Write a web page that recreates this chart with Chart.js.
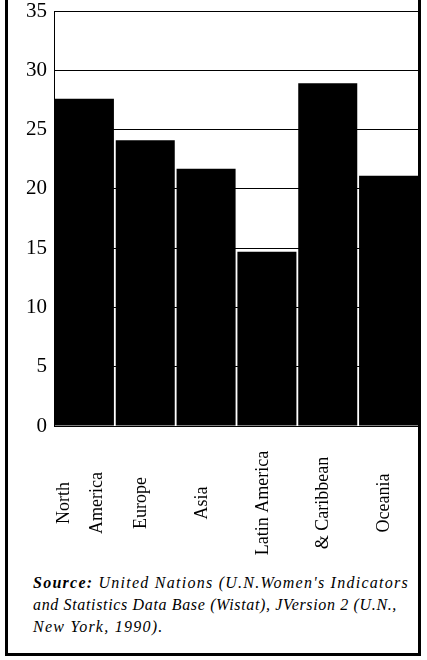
<!DOCTYPE html>
<html>
<head>
<meta charset="utf-8">
<script src="https://cdn.jsdelivr.net/npm/chart.js@4/dist/chart.umd.min.js"></script>
<style>
  body { margin: 0; background: #fff; }
  #frame {
    position: absolute; left: 5px; top: -3px; width: 416px; height: 659px;
    border: 3px solid #000; box-sizing: border-box;
  }
  #chartBox { position: absolute; left: 8px; top: 0; width: 411px; height: 570px; }
  #source {
    position: absolute; left: 33px; top: 572px; width: 385px;
    font: italic 16px "Liberation Serif", serif; line-height: 22px;
    letter-spacing: 1.25px; color: #000; white-space: nowrap;
  }
  #source span { display: block; }
  #source .l2 { letter-spacing: 0.65px; }
  #source b { font-weight: bold; }
</style>
</head>
<body>
<div id="frame"></div>
<div id="chartBox"><canvas id="chart" width="411" height="570"></canvas></div>
<div id="source"><span><b>Source:</b> United Nations (U.N.Women's Indicators</span><span class="l2">and Statistics Data Base (Wistat), JVersion 2 (U.N.,</span><span>New York, 1990).</span></div>
<script>
// Data
const categories = [["North", "America"], "Europe", "Asia", "Latin America", "& Caribbean", "Oceania"];
const values = [27.6, 24.1, 21.7, 14.7, 28.9, 21.1];
const yTicks = [0, 5, 10, 15, 20, 25, 30, 35];

// Rotated category labels, centred under each bar
const xLabelPlugin = {
  id: 'xLabels',
  afterDraw(chart) {
    const ctx = chart.ctx;
    const xs = chart.scales.x;
    ctx.save();
    ctx.fillStyle = '#000';
    ctx.font = '18px "Liberation Serif"';
    ctx.textAlign = 'center';
    ctx.textBaseline = 'middle';
    categories.forEach((lab, i) => {
      const lines = [].concat(lab);
      const x = xs.getPixelForValue(i);
      lines.forEach((line, j) => {
        ctx.save();
        ctx.translate(x - 4 + (j - (lines.length - 1) / 2) * 33, 503);
        ctx.rotate(-Math.PI / 2);
        ctx.fillText(line, 0, 0);
        ctx.restore();
      });
    });
    ctx.restore();
  }
};

// Draw chart
var chart = new Chart(document.getElementById('chart'), {
  type: 'bar',
  data: {
    labels: categories.map(c => [].concat(c).join(' ')),
    datasets: [{
      data: values,
      backgroundColor: '#000',
      borderWidth: 0,
      barPercentage: 0.97,
      categoryPercentage: 1.0
    }]
  },
  options: {
    responsive: false,
    animation: false,
    layout: { padding: { top: 11, right: 0, bottom: 0, left: 0 } },
    plugins: { legend: { display: false }, tooltip: { enabled: false } },
    scales: {
      x: {
        grid: { display: false },
        border: { display: false },
        ticks: { display: false },
        afterFit: (scale) => { scale.height = 144; }
      },
      y: {
        min: 0,
        max: 35,
        afterBuildTicks: (scale) => { scale.ticks = yTicks.map(v => ({ value: v })); },
        ticks: {
          color: '#000',
          padding: 7,
          font: { family: '"Liberation Serif"', size: 21, lineHeight: 1 }
        },
        grid: { color: '#000', lineWidth: 1, drawTicks: false },
        border: { display: true, color: '#000', width: 1 },
        afterFit: (scale) => {
          scale.width = 46;
          scale.paddingTop = 0;
          scale.paddingBottom = 0;
        }
      }
    }
  },
  plugins: [xLabelPlugin]
});
</script>
</body>
</html>
